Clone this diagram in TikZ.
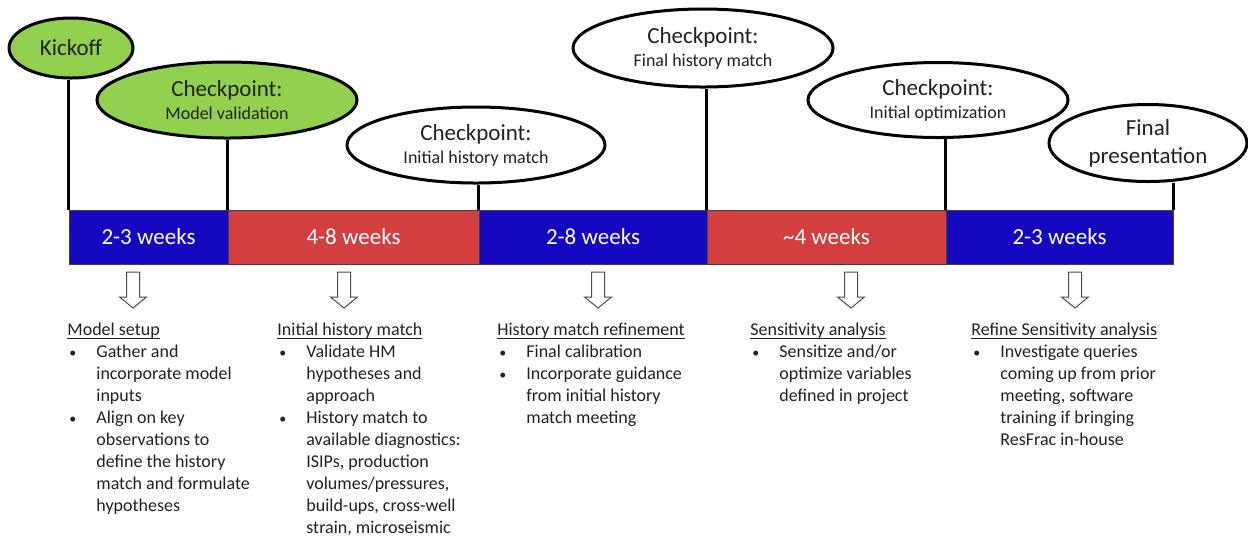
\documentclass[tikz,border=0pt]{standalone}
\usepackage{fontspec}
\setmainfont{Carlito}
\usetikzlibrary{shapes.geometric,backgrounds}
\definecolor{okgreen}{HTML}{92D050}
\definecolor{barblue}{RGB}{20,8,192}
\definecolor{barred}{RGB}{211,63,63}
\definecolor{ink}{HTML}{222222}
% underlined heading with a fixed rule just below the baseline
\newcommand{\stephead}[1]{\setbox0\hbox{#1}\rlap{\rule[-1.7pt]{\wd0}{0.45pt}}\box0}
\newcommand{\subfont}{\fontsize{9}{11.5}\selectfont}
\newcommand{\itemdot}{{\fontsize{7}{7}\selectfont\textbullet}}

\begin{document}
\begin{tikzpicture}[x=0.5pt,y=-0.5pt,
  milestone/.style={ellipse,draw=black,line width=1.5pt,fill=white,inner sep=0pt,
    align=center,text=ink,font=\fontsize{11.5}{14}\selectfont},
  checkpoint/.style={milestone,font=\fontsize{11.5}{11.5}\selectfont},
  reached/.style={fill=okgreen},
  phase/.style={draw=black!75,line width=0.5pt,minimum height=27pt,inner sep=0pt,
    text=white,font=\fontsize{11.5}{14}\selectfont},
  stem/.style={line width=1.2pt,draw=black},
  notes/.style={anchor=base west,inner sep=0pt,text=ink,font=\fontsize{9}{11}\selectfont},
  arrowline/.style={draw=black!70,line width=0.5pt,fill=white},
  downarrow/.pic={\draw[arrowline] (-6.5,0) -- (6.5,0) -- (6.5,25) -- (13.5,25)
    -- (0,36) -- (-13.5,25) -- (-6.5,25) -- cycle;}
]
\useasboundingbox (0,0) rectangle (1248,538);

% phase bar
\node[phase,fill=barblue,minimum width=79.5pt]  (s1) at (148.5,237) {2-3 weeks};
\node[phase,fill=barred, minimum width=125.5pt] (s2) at (353.5,237) {4-8 weeks};
\node[phase,fill=barblue,minimum width=114pt]   (s3) at (593,237)   {2-8 weeks};
\node[phase,fill=barred, minimum width=119.5pt] (s4) at (826.5,237) {\textasciitilde 4 weeks};
\node[phase,fill=barblue,minimum width=113.5pt] (s5) at (1059.5,237) {2-3 weeks};

% milestones
\node[milestone,reached,minimum width=62pt,minimum height=30pt] (ko) at (71,48) {Kickoff};
\node[checkpoint,reached,minimum width=130pt,minimum height=38pt] (mv) at (227,100)
  {Checkpoint:\\\subfont Model validation};
\node[checkpoint,minimum width=129pt,minimum height=38pt] (ihm) at (476,145)
  {Checkpoint:\\\subfont Initial history match};
\node[checkpoint,minimum width=130pt,minimum height=39pt] (fhm) at (703,48)
  {Checkpoint:\\\subfont Final history match};
\node[checkpoint,minimum width=130pt,minimum height=37.5pt] (io) at (938,100)
  {Checkpoint:\\\subfont Initial optimization};
\node[milestone,minimum width=99pt,minimum height=38.5pt] (fp) at (1148,143)
  {Final\\presentation};

% page background and stems from the phase boundaries up to the milestones
\begin{pgfonlayer}{background}
\fill[white] (0,0) rectangle (1248,538);
\draw[stem] (s1.north west) -- (s1.north west |- ko.south);
\draw[stem] (s2.north west) -- (s2.north west |- mv.south);
\draw[stem] (s3.north west) -- (s3.north west |- ihm.south);
\draw[stem] (s4.north west) -- (s4.north west |- fhm.south);
\draw[stem] (s5.north west) -- (s5.north west |- io.south);
\draw[stem] (s5.north east) -- (s5.north east |- fp.south);
\end{pgfonlayer}

% block arrows under each phase
\pic at (133,272) {downarrow};
\pic at (344,272) {downarrow};
\pic at (598,272) {downarrow};
\pic at (851,272) {downarrow};
\pic at (1075,272) {downarrow};

% phase descriptions
\node[notes] (n1) at (67,335) {\begin{tabular}[t]{@{\hspace{1pt}}p{13.5pt}@{}l@{}}
\multicolumn{2}{@{}l@{}}{\stephead{Model setup}}\\
\itemdot & Gather and\\
 & incorporate model\\
 & inputs\\
\itemdot & Align on key\\
 & observations to\\
 & define the history\\
 & match and formulate\\
 & hypotheses
\end{tabular}};
\node[notes] (n2) at (277,335) {\begin{tabular}[t]{@{\hspace{1pt}}p{13.5pt}@{}l@{}}
\multicolumn{2}{@{}l@{}}{\stephead{Initial history match}}\\
\itemdot & Validate HM\\
 & hypotheses and\\
 & approach\\
\itemdot & History match to\\
 & available diagnostics:\\
 & ISIPs, production\\
 & volumes/pressures,\\
 & build-ups, cross-well\\
 & strain, microseismic
\end{tabular}};
\node[notes] (n3) at (497,335) {\begin{tabular}[t]{@{\hspace{1pt}}p{13.5pt}@{}l@{}}
\multicolumn{2}{@{}l@{}}{\stephead{History match refinement}}\\
\itemdot & Final calibration\\
\itemdot & Incorporate guidance\\
 & from initial history\\
 & match meeting
\end{tabular}};
\node[notes] (n4) at (750,335) {\begin{tabular}[t]{@{\hspace{1pt}}p{13.5pt}@{}l@{}}
\multicolumn{2}{@{}l@{}}{\stephead{Sensitivity analysis}}\\
\itemdot & Sensitize and/or\\
 & optimize variables\\
 & defined in project
\end{tabular}};
\node[notes] (n5) at (971,335) {\begin{tabular}[t]{@{\hspace{1pt}}p{13.5pt}@{}l@{}}
\multicolumn{2}{@{}l@{}}{\stephead{Refine Sensitivity analysis}}\\
\itemdot & Investigate queries\\
 & coming up from prior\\
 & meeting, software\\
 & training if bringing\\
 & ResFrac in-house
\end{tabular}};
\end{tikzpicture}
\end{document}
